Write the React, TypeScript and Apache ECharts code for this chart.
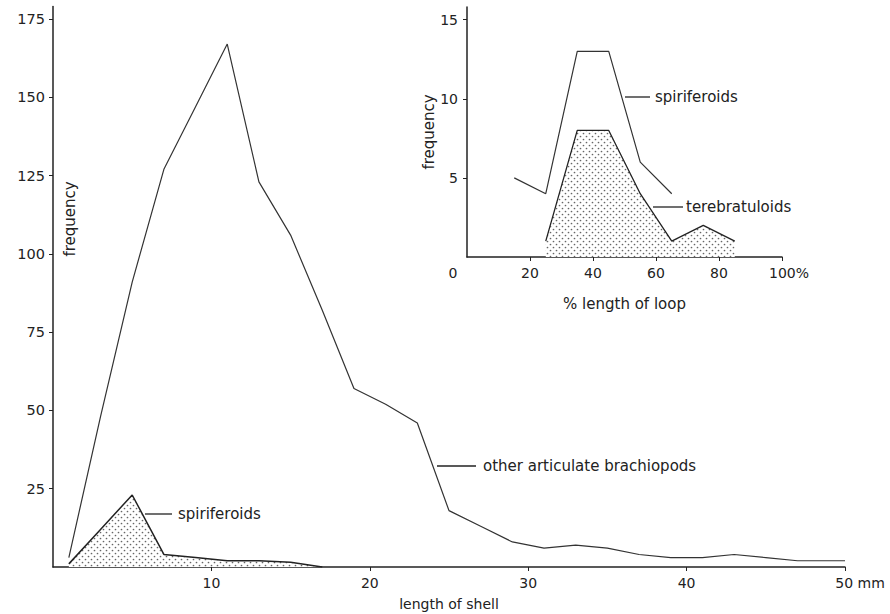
import React, { useEffect, useRef } from "react";
import * as echarts from "echarts";

// Main chart: frequency vs length of shell (mm)
const shellLength = [1, 3, 5, 7, 9, 11, 13, 15, 17, 19, 21, 23, 25, 27, 29, 31, 33, 35, 37, 39, 41, 43, 45, 47, 50];
const otherBrachiopods = [3, 48, 91, 127, 147, 167, 123, 106, 82, 57, 52, 46, 18, 13, 8, 6, 7, 6, 4, 3, 3, 4, 3, 2, 2];
const spiriferoidLength = [1, 3, 5, 7, 9, 11, 13, 15, 17];
const spiriferoidFreq = [1, 12, 23, 4, 3, 2, 2, 1.5, 0];
const mainYTicks = [25, 50, 75, 100, 125, 150, 175];
const mainXTicks = [10, 20, 30, 40, 50];

// Inset: frequency vs % length of loop
const loopSpirX = [15, 25, 35, 45, 55, 65];
const loopSpirY = [5, 4, 13, 13, 6, 4];
const loopTereX = [25, 35, 45, 55, 65, 75, 85];
const loopTereY = [1, 8, 8, 4, 1, 2, 1];
const insetYTicks = [5, 10, 15];
const insetXTicks = [20, 40, 60, 80, 100];
const insetXLabels = [0, 20, 40, 60, 80, 100];

const FONT = "DejaVu Sans";
const INK = "#222";

function makeDots(): HTMLCanvasElement {
  const c = document.createElement("canvas");
  c.width = 6;
  c.height = 6;
  const ctx = c.getContext("2d")!;
  ctx.fillStyle = "#fff";
  ctx.fillRect(0, 0, 6, 6);
  ctx.fillStyle = "#666";
  ctx.beginPath();
  ctx.arc(1.5, 1.5, 0.85, 0, Math.PI * 2);
  ctx.arc(4.5, 4.5, 0.85, 0, Math.PI * 2);
  ctx.fill();
  return c;
}

const pairs = (xs: number[], ys: number[]) => xs.map((x, i) => [x, ys[i]]);

export default function App() {
  const ref = useRef<HTMLDivElement>(null);
  useEffect(() => {
    const chart = echarts.init(ref.current!, null, { renderer: "svg" });
    const dots = makeDots();
    const pattern: any = {
      image: dots.toDataURL(),
      imageWidth: 6,
      imageHeight: 6,
      repeat: "repeat",
    };
    const axisLine = { show: true, lineStyle: { color: INK, width: 1.5 } };
    const labelStyle = { color: INK, fontFamily: FONT, fontSize: 14 };
    const nameStyle = { color: INK, fontFamily: FONT, fontSize: 15 };
    const textStyle = { fill: INK, font: `15px "${FONT}"` };

    chart.setOption({
      animation: false,
      backgroundColor: "#fff",
      textStyle: { fontFamily: FONT },
      grid: [
        { left: 53, right: 45, top: 6.5, bottom: 47, containLabel: false, outerBoundsMode: "none" },
        { left: 467, right: 108, top: 7, bottom: 357, containLabel: false, outerBoundsMode: "none" },
      ],
      xAxis: [
        {
          type: "value",
          gridIndex: 0,
          min: 0,
          max: 50,
          axisLine,
          splitLine: { show: false },
          axisTick: { show: true, length: 4, customValues: mainXTicks, lineStyle: { color: INK } },
          axisLabel: {
            ...labelStyle,
            margin: 9,
            customValues: mainXTicks,
            formatter: (v: number) => (v === 50 ? "{mm|50 mm}" : String(v)),
            rich: { mm: { ...labelStyle, padding: [0, 0, 0, 30] } },
          },
          name: "length of shell",
          nameLocation: "middle",
          nameGap: 30,
          nameTextStyle: { ...nameStyle, fontSize: 14 },
        },
        {
          type: "value",
          gridIndex: 1,
          min: 0,
          max: 100,
          axisLine,
          splitLine: { show: false },
          axisTick: { show: true, length: 4, customValues: insetXTicks, lineStyle: { color: INK } },
          axisLabel: {
            ...labelStyle,
            margin: 9,
            customValues: insetXLabels,
            formatter: (v: number) => (v === 0 ? "{z|0}" : v === 100 ? "{p|100%}" : String(v)),
            rich: {
              z: { ...labelStyle, padding: [0, 28, 0, 0] },
              p: { ...labelStyle, padding: [0, 0, 0, 14] },
            },
          },
          name: "% length of loop",
          nameLocation: "middle",
          nameGap: 39,
          nameTextStyle: nameStyle,
        },
      ],
      yAxis: [
        {
          type: "value",
          gridIndex: 0,
          min: 0,
          max: 179,
          axisLine,
          splitLine: { show: false },
          axisTick: { show: true, length: 4, customValues: mainYTicks, lineStyle: { color: INK } },
          axisLabel: { ...labelStyle, fontSize: 14.5, margin: 8, customValues: mainYTicks },
        },
        {
          type: "value",
          gridIndex: 1,
          min: 0,
          max: 15.8,
          axisLine,
          splitLine: { show: false },
          axisTick: { show: true, length: 4, customValues: insetYTicks, lineStyle: { color: INK } },
          axisLabel: { ...labelStyle, margin: 9, customValues: insetYTicks },
          name: "frequency",
          nameLocation: "middle",
          nameGap: 27,
          nameRotate: 90,
          nameTextStyle: nameStyle,
        },
      ],
      series: [
        {
          type: "line",
          xAxisIndex: 0,
          yAxisIndex: 0,
          data: pairs(shellLength, otherBrachiopods),
          showSymbol: false,
          lineStyle: { color: "#333", width: 1.2 },
        },
        {
          type: "line",
          xAxisIndex: 0,
          yAxisIndex: 0,
          data: pairs(spiriferoidLength, spiriferoidFreq),
          showSymbol: false,
          lineStyle: { color: "#222", width: 1.5 },
          areaStyle: { color: pattern, opacity: 1 },
        },
        {
          type: "line",
          xAxisIndex: 1,
          yAxisIndex: 1,
          data: pairs(loopSpirX, loopSpirY),
          showSymbol: false,
          lineStyle: { color: "#333", width: 1.2 },
        },
        {
          type: "line",
          xAxisIndex: 1,
          yAxisIndex: 1,
          data: pairs(loopTereX, loopTereY),
          showSymbol: false,
          lineStyle: { color: "#222", width: 1.3 },
          areaStyle: { color: pattern, opacity: 1 },
        },
      ],
      graphic: [
        {
          type: "text",
          x: 70,
          y: 219,
          rotation: Math.PI / 2,
          style: { ...textStyle, text: "frequency", align: "center", verticalAlign: "middle" },
        },
        { type: "line", shape: { x1: 145, y1: 514, x2: 172, y2: 514 }, style: { stroke: INK, lineWidth: 1.3 } },
        {
          type: "text",
          x: 178,
          y: 514,
          style: { ...textStyle, text: "spiriferoids", verticalAlign: "middle" },
        },
        { type: "line", shape: { x1: 437, y1: 466, x2: 476, y2: 466 }, style: { stroke: INK, lineWidth: 1.3 } },
        {
          type: "text",
          x: 483,
          y: 466,
          style: { ...textStyle, text: "other articulate brachiopods", verticalAlign: "middle" },
        },
        { type: "line", shape: { x1: 625, y1: 97, x2: 650, y2: 97 }, style: { stroke: INK, lineWidth: 1.3 } },
        {
          type: "text",
          x: 655,
          y: 97,
          style: { ...textStyle, text: "spiriferoids", verticalAlign: "middle" },
        },
        { type: "line", shape: { x1: 653, y1: 207, x2: 683, y2: 207 }, style: { stroke: INK, lineWidth: 1.3 } },
        {
          type: "text",
          x: 686,
          y: 207,
          style: { ...textStyle, text: "terebratuloids", verticalAlign: "middle" },
        },
      ],
    });
    return () => chart.dispose();
  }, []);
  return (
    <div
      ref={ref}
      style={{ position: "absolute", left: 0, top: 0, width: 890, height: 614, background: "#fff" }}
    />
  );
}
